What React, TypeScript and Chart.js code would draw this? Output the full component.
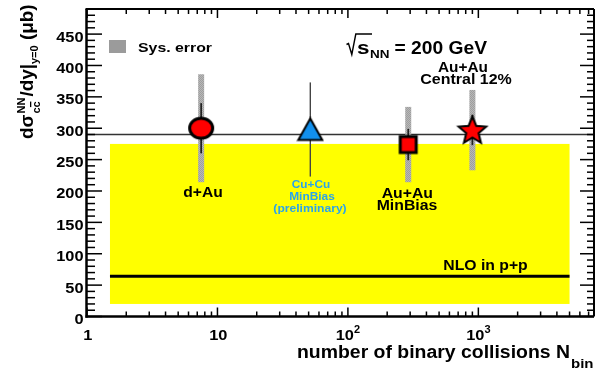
import React, { useEffect, useRef } from 'react';
import { Chart, registerables } from 'chart.js';

Chart.register(...registerables);

// ---------- data ----------
const systems = ['d+Au', 'Cu+Cu', 'Au+Au MinBias', 'Au+Au Central 12%'];
const nBinary = [7.5, 51.5, 290, 900];
const crossSection = [300, 298, 274, 297];
const statError = [40, 75, 25, 24];
const sysError = [86, 0, 60, 64];
const markerKinds = ['circle', 'triangle', 'square', 'star'];

const nloRangeX = [1.5, 5000];
const nloCentral = 64;
const nloLow = 20;
const nloHigh = 275;
const referenceLevel = 290;

const xRange = [1, 7700];
const yRange = [0, 490];
const yMajorTicks = [0, 50, 100, 150, 200, 250, 300, 350, 400, 450];
const yMinorStep = 10;
const xMajorTicks = [1, 10, 100, 1000];
const xTickBase = ['1', '10', '10', '10'];
const xTickExp = ['', '', '2', '3'];

const FONT = '"Liberation Sans", Arial, Helvetica, sans-serif';

type TextOpts = { align?: 'left' | 'center' | 'right'; width?: number; stretch?: number; color?: string; weight?: string };

function drawText(ctx: CanvasRenderingContext2D, s: string, x: number, y: number, size: number, o: TextOpts = {}) {
  ctx.save();
  ctx.font = `${o.weight || 'bold'} ${size}px ${FONT}`;
  ctx.fillStyle = o.color || '#000';
  ctx.textBaseline = 'alphabetic';
  ctx.textAlign = 'left';
  const w = ctx.measureText(s).width;
  const sx = o.width ? o.width / w : o.stretch || 1;
  const dw = w * sx;
  let left = x;
  if (o.align === 'center') left = x - dw / 2;
  else if (o.align === 'right') left = x - dw;
  ctx.translate(left, y);
  ctx.scale(sx, 1);
  ctx.fillText(s, 0, 0);
  ctx.restore();
  return dw;
}

function makeMarker(kind: string): HTMLCanvasElement {
  const c = document.createElement('canvas');
  const g = c.getContext('2d')!;
  if (kind === 'circle') {
    c.width = 28; c.height = 26;
    g.beginPath();
    g.ellipse(14, 13, 11.5, 10, 0, 0, Math.PI * 2);
    g.fillStyle = '#ff0000'; g.fill();
    g.lineWidth = 3; g.strokeStyle = '#000'; g.stroke();
  } else if (kind === 'triangle') {
    c.width = 28; c.height = 26;
    g.beginPath();
    g.moveTo(14, 2); g.lineTo(26, 23.5); g.lineTo(2, 23.5); g.closePath();
    g.fillStyle = '#1190ee'; g.fill();
    g.lineWidth = 2; g.lineJoin = 'miter'; g.strokeStyle = '#000'; g.stroke();
  } else if (kind === 'square') {
    c.width = 22; c.height = 22;
    g.fillStyle = '#ff0000'; g.fillRect(3, 3, 16, 16);
    g.lineWidth = 3; g.strokeStyle = '#000'; g.strokeRect(3, 3, 16, 16);
  } else {
    c.width = 34; c.height = 32;
    const cx = 17, cy = 17, R = 14.5, r = 6.5;
    g.beginPath();
    for (let i = 0; i < 10; i++) {
      const a = -Math.PI / 2 + (i * Math.PI) / 5;
      const rr = i % 2 === 0 ? R : r;
      const px = cx + rr * Math.cos(a), py = cy + rr * Math.sin(a);
      if (i === 0) g.moveTo(px, py); else g.lineTo(px, py);
    }
    g.closePath();
    g.fillStyle = '#ff0000'; g.fill();
    g.lineWidth = 2; g.lineJoin = 'miter'; g.strokeStyle = '#000'; g.stroke();
  }
  return c;
}

const physPlugin = {
  id: 'physDecor',
  beforeDatasetsDraw(chart: any) {
    const ctx: CanvasRenderingContext2D = chart.ctx;
    const xs = chart.scales.x, ys = chart.scales.y;
    const area = chart.chartArea;
    ctx.save();
    // NLO band
    const bx0 = xs.getPixelForValue(nloRangeX[0]);
    const bx1 = xs.getPixelForValue(nloRangeX[1]);
    const by0 = ys.getPixelForValue(nloHigh);
    const by1 = ys.getPixelForValue(nloLow);
    ctx.fillStyle = '#ffff00';
    ctx.fillRect(bx0, by0, bx1 - bx0, by1 - by0);
    // NLO central
    ctx.strokeStyle = '#000';
    ctx.lineWidth = 3;
    ctx.beginPath();
    const ny = ys.getPixelForValue(nloCentral);
    ctx.moveTo(bx0, ny); ctx.lineTo(bx1, ny); ctx.stroke();
    // reference line
    ctx.strokeStyle = '#333';
    ctx.lineWidth = 1.3;
    const ry = ys.getPixelForValue(referenceLevel);
    ctx.beginPath(); ctx.moveTo(area.left, ry); ctx.lineTo(area.right, ry); ctx.stroke();
    // sys error bands
    const p = document.createElement('canvas'); p.width = 2; p.height = 2;
    const pg = p.getContext('2d')!;
    pg.fillStyle = '#b8b8b8'; pg.fillRect(0, 0, 2, 2);
    pg.fillStyle = '#9e9e9e'; pg.fillRect(0, 0, 1, 1); pg.fillRect(1, 1, 1, 1);
    const pat = ctx.createPattern(p, 'repeat')!;
    for (let i = 0; i < nBinary.length; i++) {
      if (!sysError[i]) continue;
      const x = xs.getPixelForValue(nBinary[i]);
      const y0 = ys.getPixelForValue(crossSection[i] + sysError[i]);
      const y1 = ys.getPixelForValue(crossSection[i] - sysError[i]);
      ctx.fillStyle = pat;
      ctx.fillRect(x - 3, y0, 6, y1 - y0);
    }
    // stat error bars
    for (let i = 0; i < nBinary.length; i++) {
      const x = xs.getPixelForValue(nBinary[i]);
      const y0 = ys.getPixelForValue(crossSection[i] + statError[i]);
      const y1 = ys.getPixelForValue(crossSection[i] - statError[i]);
      ctx.strokeStyle = i === 1 ? '#444' : '#222';
      ctx.lineWidth = i === 1 ? 1.4 : 1.7;
      ctx.beginPath(); ctx.moveTo(x, y0); ctx.lineTo(x, y1); ctx.stroke();
    }
    ctx.restore();
  },
  afterDraw(chart: any) {
    const ctx: CanvasRenderingContext2D = chart.ctx;
    const xs = chart.scales.x, ys = chart.scales.y;
    const a = chart.chartArea;
    ctx.save();
    ctx.strokeStyle = '#000';
    // frame
    ctx.lineWidth = 2.5;
    ctx.beginPath(); ctx.moveTo(a.left - 0.5, a.top); ctx.lineTo(a.left - 0.5, a.bottom + 1.2); ctx.stroke();
    ctx.beginPath(); ctx.moveTo(a.left - 1.5, a.bottom); ctx.lineTo(a.right, a.bottom); ctx.stroke();
    ctx.lineWidth = 2;
    ctx.beginPath(); ctx.moveTo(a.left - 1.5, a.top); ctx.lineTo(a.right, a.top); ctx.stroke();
    ctx.beginPath(); ctx.moveTo(a.right, a.top); ctx.lineTo(a.right, a.bottom); ctx.stroke();
    // y ticks
    ctx.lineWidth = 1.5;
    for (let v = yRange[0]; v <= yRange[1]; v += yMinorStep) {
      const y = ys.getPixelForValue(v);
      const major = v % 50 === 0;
      const lenL = major ? 15 : 8;
      const lenR = major ? 14 : 7;
      ctx.beginPath(); ctx.moveTo(a.left, y); ctx.lineTo(a.left + lenL, y); ctx.stroke();
      ctx.beginPath(); ctx.moveTo(a.right, y); ctx.lineTo(a.right - lenR, y); ctx.stroke();
    }
    // x ticks
    for (let d = 1; d <= xRange[1]; d *= 10) {
      for (let m = 1; m <= 9; m++) {
        const v = d * m;
        if (v < xRange[0] || v > xRange[1]) continue;
        const x = xs.getPixelForValue(v);
        const len = m === 1 ? 9 : 5;
        ctx.beginPath(); ctx.moveTo(x, a.bottom); ctx.lineTo(x, a.bottom - len); ctx.stroke();
        ctx.beginPath(); ctx.moveTo(x, a.top); ctx.lineTo(x, a.top + len); ctx.stroke();
      }
    }
    // y tick labels
    for (const v of yMajorTicks) {
      const y = ys.getPixelForValue(v);
      drawText(ctx, String(v), 83.5, y + 7.4, 14, { align: 'right', stretch: 1.17 });
    }
    // x tick labels
    for (let i = 0; i < xMajorTicks.length; i++) {
      const x = xs.getPixelForValue(xMajorTicks[i]);
      ctx.font = `bold 14px ${FONT}`;
      const wb = ctx.measureText(xTickBase[i]).width * 1.17;
      ctx.font = `bold 10px ${FONT}`;
      const we = xTickExp[i] ? ctx.measureText(xTickExp[i]).width * 1.1 : 0;
      const left = x - (wb + we) / 2 + (we ? 0 : 0.8);
      drawText(ctx, xTickBase[i], left, 339.5, 14, { stretch: 1.17 });
      if (we) drawText(ctx, xTickExp[i], left + wb, 333, 10, { stretch: 1.1 });
    }
    // x title
    drawText(ctx, 'number of binary collisions N', 570, 358, 18, { align: 'right', width: 273 });
    drawText(ctx, 'bin', 571, 368, 12, { width: 22.5 });

    // y title (rotated)
    ctx.save();
    ctx.translate(33, 139);
    ctx.rotate(-Math.PI / 2);
    const big = 18, small = 10.5;
    let px = 0;
    const st = 1.05;
    px += drawText(ctx, 'd\u03c3', px, 0, big, { stretch: st });
    const wNN = drawText(ctx, 'NN', px + 1, -8.5, small, { stretch: st });
    ctx.font = `bold ${small}px ${FONT}`;
    const wc = ctx.measureText('c').width * st;
    const wcc = drawText(ctx, 'cc', px + 1, 6.5, small, { stretch: st });
    ctx.fillStyle = '#000';
    ctx.fillRect(px + 1 + wc + 0.3, 6.5 - 9.5, wc - 0.6, 1.3);
    px += Math.max(wNN, wcc) + 2;
    px += drawText(ctx, '/dy|', px, 0, big, { stretch: st });
    px += drawText(ctx, 'y=0', px, 5, small, { stretch: st });
    drawText(ctx, ' (\u03bcb)', px, 0, big, { stretch: st });
    ctx.restore();

    // legend
    ctx.fillStyle = '#9b9b9b';
    ctx.fillRect(109, 40, 17, 13);
    drawText(ctx, 'Sys. error', 138, 52, 13, { width: 74 });

    // sqrt(s_NN) = 200 GeV
    ctx.strokeStyle = '#000';
    ctx.lineWidth = 1.4;
    ctx.beginPath();
    ctx.moveTo(346.5, 44.5); ctx.lineTo(348.5, 43.5); ctx.lineTo(351.8, 54.5); ctx.lineTo(355.8, 34); ctx.lineTo(372, 34);
    ctx.stroke();
    drawText(ctx, 's', 357, 54, 17.5, { width: 12.5 });
    drawText(ctx, 'NN', 370, 57.5, 11, { width: 19.5 });
    drawText(ctx, '= 200 GeV', 394.5, 53.5, 17.5, { width: 92.5 });

    // point labels
    drawText(ctx, 'Au+Au', 463, 71.7, 14, { align: 'center', width: 50 });
    drawText(ctx, 'Central 12%', 466, 84.3, 14, { align: 'center', width: 91.5 });
    drawText(ctx, 'd+Au', 203, 197.3, 14, { align: 'center', width: 39.5 });
    const blue = '#2aa4ea';
    drawText(ctx, 'Cu+Cu', 311, 187.7, 11, { align: 'center', width: 38.3, color: blue });
    drawText(ctx, 'MinBias', 312, 200, 11, { align: 'center', width: 45.7, color: blue });
    drawText(ctx, '(preliminary)', 310, 212, 11, { align: 'center', width: 73.3, color: blue });
    drawText(ctx, 'Au+Au', 407.3, 198.3, 14, { align: 'center', width: 51.3 });
    drawText(ctx, 'MinBias', 407, 209.5, 14, { align: 'center', width: 60.6 });
    drawText(ctx, 'NLO in p+p', 443.3, 270, 14, { width: 84.4 });
    ctx.restore();
  },
};

export default function App() {
  const ref = useRef<HTMLCanvasElement | null>(null);
  useEffect(() => {
    if (!ref.current) return;
    const markers = markerKinds.map(makeMarker);
    const chart = new Chart(ref.current, {
      type: 'scatter',
      data: {
        labels: systems,
        datasets: [
          {
            label: 'charm cross section',
            data: nBinary.map((x, i) => ({ x, y: crossSection[i] })),
            pointStyle: markers as any,
            pointRadius: 12,
            showLine: false,
          },
        ],
      },
      options: {
        animation: false,
        responsive: false,
        events: [],
        layout: { autoPadding: false, padding: { left: 87, right: 1, top: 9, bottom: 54.5 } },
        scales: {
          x: { type: 'logarithmic', min: xRange[0], max: xRange[1], display: false, offset: false },
          y: { type: 'linear', min: yRange[0], max: yRange[1], display: false },
        },
        plugins: { legend: { display: false }, tooltip: { enabled: false } },
      },
      plugins: [physPlugin as any],
    });
    return () => chart.destroy();
  }, []);
  return (
    <div style={{ position: 'absolute', left: 0, top: 0, width: 595, height: 371, background: '#fff' }}>
      <canvas ref={ref} width={595} height={371} style={{ display: 'block', width: 595, height: 371 }} />
    </div>
  );
}
